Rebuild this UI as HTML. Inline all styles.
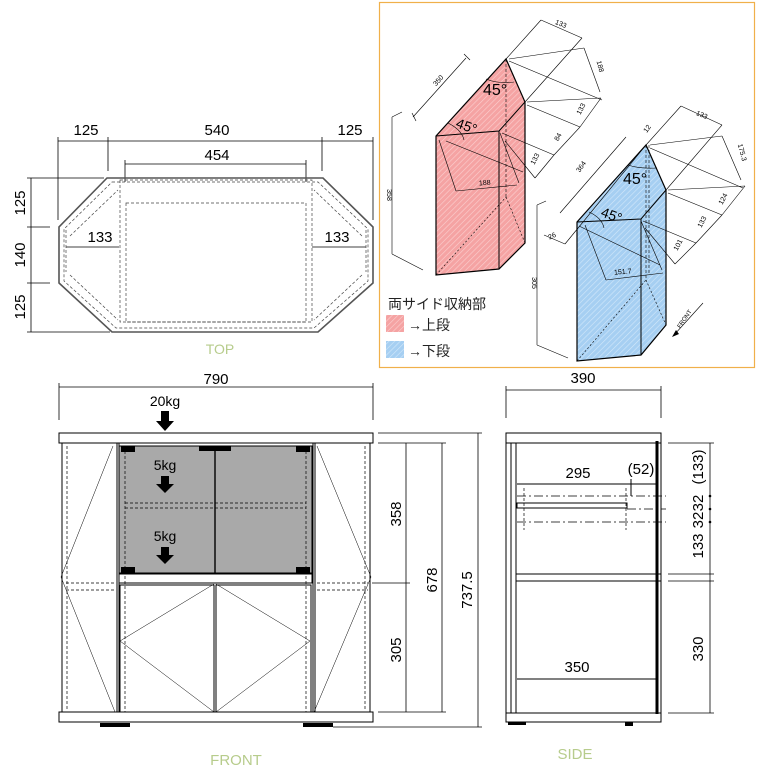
<!DOCTYPE html>
<html><head><meta charset="utf-8"><style>
html,body{margin:0;padding:0;background:#fff;}
svg{display:block;}
text{font-family:"Liberation Sans","Noto Sans CJK JP",sans-serif;}
</style></head><body>
<svg width="770" height="769" viewBox="0 0 770 769" xmlns="http://www.w3.org/2000/svg">
<defs>
<pattern id="hr" width="4" height="4" patternUnits="userSpaceOnUse" patternTransform="rotate(45)">
<rect width="4" height="4" fill="#f5a3a3"/><line x1="0" y1="0" x2="0" y2="4" stroke="#fbd0d0" stroke-width="1.2"/></pattern>
<pattern id="hb" width="4" height="4" patternUnits="userSpaceOnUse" patternTransform="rotate(45)">
<rect width="4" height="4" fill="#a6cff2"/><line x1="0" y1="0" x2="0" y2="4" stroke="#d3e8fa" stroke-width="1.2"/></pattern>
</defs>

<!-- ========== TOP VIEW ========== -->
<g stroke="#000" stroke-width="0.8" fill="none">
<line x1="58" y1="141" x2="373" y2="141"/>
<line x1="58" y1="137" x2="58" y2="220"/>
<line x1="108" y1="137" x2="108" y2="171"/>
<line x1="322" y1="137" x2="322" y2="171"/>
<line x1="373" y1="137" x2="373" y2="220"/>
<line x1="125" y1="164" x2="306" y2="164"/>
<line x1="125" y1="160" x2="125" y2="182"/><line x1="306" y1="160" x2="306" y2="182"/>
<line x1="31" y1="178" x2="31" y2="332"/>
<line x1="27" y1="178" x2="104" y2="178"/>
<line x1="27" y1="227" x2="50" y2="227"/>
<line x1="27" y1="283" x2="50" y2="283"/>
<line x1="27" y1="332" x2="110" y2="332"/>
<line x1="66" y1="247" x2="119" y2="247"/>
<line x1="312" y1="247" x2="366" y2="247"/>
</g>
<polygon points="107,178 323,178 373,227 373,283 318,332 112,332 59,283 59,227" fill="none" stroke="#555" stroke-width="1.6"/>
<g stroke="#444" stroke-width="0.7" fill="none" stroke-dasharray="3,2">
<polygon points="112,182 318,182 368,229 368,281 314,328 116,328 64,281 64,229"/>
<rect x="120" y="180" width="192" height="142"/>
<rect x="126" y="203" width="180" height="119"/>
<line x1="66" y1="230" x2="66" y2="272"/>
<line x1="366" y1="230" x2="366" y2="272"/>
<line x1="70" y1="275" x2="118" y2="320"/>
<line x1="362" y1="275" x2="314" y2="320"/>
<line x1="70" y1="236" x2="118" y2="190"/>
<line x1="362" y1="236" x2="314" y2="190"/>
</g>
<g font-size="15" text-anchor="middle" fill="#000">
<text x="86" y="135">125</text><text x="217" y="135">540</text><text x="350" y="135">125</text>
<text x="217" y="160">454</text>
<text x="100" y="242">133</text><text x="337" y="242">133</text>
<text transform="translate(25,203) rotate(-90)">125</text>
<text transform="translate(25,255) rotate(-90)">140</text>
<text transform="translate(25,307) rotate(-90)">125</text>
</g>
<text x="220" y="354" font-size="14" fill="#b7cc8c" text-anchor="middle">TOP</text>

<!-- ========== ISO BOX ========== -->
<rect x="379.5" y="2.5" width="375" height="365" fill="#fff" stroke="#f0b04a" stroke-width="1.2"/>
<polygon points="436,136 506,59 525,102 525,243 499,269 436,275" fill="url(#hr)" stroke="#000" stroke-width="1.2"/>
<g stroke="#000" stroke-width="1" fill="none">
<polyline points="436,136 499,131 525,102"/>
<line x1="499" y1="131" x2="499" y2="269"/>
</g>
<g stroke="#000" stroke-width="0.6" fill="none">
<line x1="506" y1="59" x2="506" y2="197" stroke-dasharray="3,2"/>
<line x1="436" y1="275" x2="506" y2="197" stroke-dasharray="2,2"/>
<line x1="506" y1="197" x2="525" y2="243" stroke-dasharray="2,2"/>
<line x1="439" y1="140" x2="456" y2="191"/><line x1="456" y1="191" x2="517" y2="185"/>
<line x1="446" y1="141" x2="523" y2="172"/>
<line x1="500" y1="133" x2="519" y2="183"/>
<line x1="413" y1="117" x2="466" y2="58"/><line x1="412" y1="113" x2="416" y2="121"/><line x1="464" y1="54" x2="470" y2="60"/>
<line x1="392" y1="117" x2="392" y2="254"/><line x1="392" y1="117" x2="402" y2="112"/><line x1="392" y1="254" x2="423" y2="270"/>
<line x1="506" y1="59" x2="541" y2="20"/><line x1="541" y1="20" x2="582" y2="38"/>
<line x1="525" y1="102" x2="582" y2="38"/>
<line x1="509" y1="59" x2="584" y2="48"/><line x1="584" y1="48" x2="600" y2="92"/>
<line x1="509" y1="61" x2="602" y2="100"/>
<line x1="527" y1="102" x2="601" y2="98"/>
<line x1="527" y1="105" x2="580" y2="127"/><line x1="580" y1="127" x2="601" y2="98"/>
<line x1="502" y1="133" x2="554" y2="155"/><line x1="554" y1="155" x2="580" y2="127"/>
<line x1="505" y1="141" x2="535" y2="178"/><line x1="535" y1="178" x2="554" y2="155"/>
<path d="M 448,123 Q 462,130 464,140"/>
<path d="M 486,79 Q 498,84 514,82"/>
</g>
<polygon points="577,222 646,145 666,190 666,325 641,355 577,361" fill="url(#hb)" stroke="#000" stroke-width="1.2"/>
<g stroke="#000" stroke-width="1" fill="none">
<polyline points="577,222 641,219 666,190"/>
<line x1="641" y1="219" x2="641" y2="355"/>
</g>
<g stroke="#000" stroke-width="0.6" fill="none">
<line x1="646" y1="145" x2="646" y2="280" stroke-dasharray="3,2"/>
<line x1="649" y1="145" x2="649" y2="275" stroke-dasharray="3,2"/>
<line x1="577" y1="361" x2="646" y2="280" stroke-dasharray="2,2"/>
<line x1="646" y1="280" x2="666" y2="325" stroke-dasharray="2,2"/>
<line x1="585" y1="225" x2="606" y2="280"/><line x1="606" y1="280" x2="663" y2="273"/>
<line x1="579" y1="226" x2="660" y2="265"/>
<line x1="641" y1="221" x2="662" y2="270"/>
<line x1="560" y1="213" x2="626" y2="137"/>
<line x1="565" y1="244" x2="646" y2="145"/><line x1="544" y1="235" x2="565" y2="244"/>
<line x1="537" y1="205" x2="537" y2="345"/><line x1="537" y1="205" x2="546" y2="201"/><line x1="537" y1="345" x2="568" y2="358"/>
<line x1="646" y1="145" x2="681" y2="106"/><line x1="681" y1="106" x2="722" y2="125"/>
<line x1="666" y1="190" x2="722" y2="125"/>
<line x1="650" y1="145" x2="722" y2="136"/><line x1="722" y1="136" x2="741" y2="180"/>
<line x1="650" y1="148" x2="743" y2="188"/>
<line x1="668" y1="190" x2="745" y2="186"/>
<line x1="668" y1="193" x2="722" y2="215"/><line x1="722" y1="215" x2="745" y2="186"/>
<line x1="643" y1="221" x2="696" y2="243"/><line x1="696" y1="243" x2="722" y2="215"/>
<line x1="645" y1="228" x2="675" y2="264"/><line x1="675" y1="264" x2="696" y2="243"/>
<path d="M 589,212 Q 602,218 604,228"/>
<path d="M 628,165 Q 640,169 657,168"/>
<line x1="703" y1="303" x2="674" y2="335"/>
</g>
<polygon points="672,337 679,334 676,330" fill="#000"/>
<g font-size="7" fill="#000" text-anchor="middle">
<text transform="translate(440,82) rotate(-48)">350</text>
<text transform="translate(560,26) rotate(22)">133</text>
<text transform="translate(598,67) rotate(75)">188</text>
<text transform="translate(583,110) rotate(-62)">133</text>
<text transform="translate(560,138) rotate(-62)">84</text>
<text transform="translate(537,160) rotate(-62)">133</text>
<text transform="translate(485,185) rotate(-5)">188</text>
<text transform="translate(387,195) rotate(90)">358</text>
<text transform="translate(583,168) rotate(-55)">364</text>
<text transform="translate(649,130) rotate(-55)">12</text>
<text transform="translate(701,117) rotate(22)">133</text>
<text transform="translate(740,153) rotate(75)">175.3</text>
<text transform="translate(725,200) rotate(-62)">124</text>
<text transform="translate(704,223) rotate(-62)">133</text>
<text transform="translate(680,246) rotate(-62)">101</text>
<text transform="translate(623,274) rotate(-5)">151.7</text>
<text transform="translate(553,238) rotate(-25)">26</text>
<text transform="translate(532,283) rotate(90)">305</text>
<text transform="translate(686,320) rotate(-55)" font-size="6">FRONT</text>
</g>
<g font-size="16" fill="#000">
<text x="483" y="95">45°</text>
<text x="623" y="184">45°</text>
<text transform="translate(455,127) rotate(20)" font-size="14">45°</text>
<text transform="translate(600,216) rotate(20)" font-size="14">45°</text>
</g>
<text x="388" y="309" font-size="14" fill="#222">両サイド収納部</text>
<rect x="386" y="315" width="18" height="17" fill="url(#hr)"/>
<text x="408" y="330" font-size="14" fill="#222">→上段</text>
<rect x="386" y="341" width="18" height="17" fill="url(#hb)"/>
<text x="408" y="356" font-size="14" fill="#222">→下段</text>

<!-- ========== FRONT VIEW ========== -->
<g stroke="#000" stroke-width="0.8" fill="none">
<line x1="59" y1="387" x2="373" y2="387"/>
<line x1="59" y1="383" x2="59" y2="420"/><line x1="373" y1="383" x2="373" y2="420"/>
</g>
<text x="216" y="384" font-size="15" text-anchor="middle">790</text>
<text x="165" y="406" font-size="14" text-anchor="middle">20kg</text>
<polygon points="161,411 169,411 169,421 174,421 165,431 156,421 161,421" fill="#000"/>
<rect x="119" y="446" width="193" height="127" fill="#a9a9a9"/>
<g stroke="#000" stroke-width="1" fill="none">
<rect x="59" y="433" width="314" height="10"/>
<rect x="59" y="712" width="314" height="10"/>
<line x1="62" y1="443" x2="62" y2="712"/><line x1="370" y1="443" x2="370" y2="712"/>
<line x1="117" y1="443" x2="117" y2="712"/><line x1="119" y1="443" x2="119" y2="712"/>
<line x1="313" y1="443" x2="313" y2="712"/><line x1="315" y1="443" x2="315" y2="712"/>
<rect x="119" y="446" width="193" height="127"/>
<line x1="215" y1="446" x2="215" y2="573" stroke-width="1.4"/>
<rect x="119" y="574" width="193" height="9"/>
<rect x="120" y="585" width="94" height="127"/>
<rect x="216" y="585" width="95" height="127"/>
</g>
<g stroke="#000" stroke-width="0.7" fill="none" stroke-dasharray="3,2">
<line x1="125" y1="503" x2="306" y2="503"/><line x1="125" y1="508" x2="306" y2="508"/>
<line x1="125" y1="446" x2="125" y2="712"/><line x1="306" y1="446" x2="306" y2="712"/>
<line x1="66" y1="583" x2="116" y2="583"/><line x1="66" y1="590" x2="116" y2="590"/>
<line x1="317" y1="583" x2="368" y2="583"/><line x1="317" y1="590" x2="368" y2="590"/>
<line x1="67" y1="446" x2="67" y2="710"/><line x1="365" y1="446" x2="365" y2="710"/>
</g>
<g stroke="#000" stroke-width="0.5" fill="none">
<polyline points="113,446 61,577 115,712"/>
<polyline points="317,446 371,577 314,712"/>
<polyline points="214,584 120,641 214,712"/>
<polyline points="216,584 310,641 216,712"/>
</g>
<g fill="#000">
<rect x="121" y="446" width="14" height="6"/><rect x="199" y="446" width="32" height="5"/><rect x="296" y="446" width="14" height="6"/>
<rect x="121" y="567" width="14" height="6"/><rect x="296" y="567" width="14" height="6"/>
<rect x="100" y="723" width="30" height="4"/><rect x="303" y="723" width="30" height="4"/>
</g>
<text x="165" y="470" font-size="14" text-anchor="middle">5kg</text>
<polygon points="161,476 169,476 169,484 174,484 165,493 156,484 161,484" fill="#000"/>
<text x="165" y="541" font-size="14" text-anchor="middle">5kg</text>
<polygon points="161,547 169,547 169,555 174,555 165,564 156,555 161,555" fill="#000"/>
<g stroke="#000" stroke-width="0.8" fill="none">
<line x1="378" y1="443" x2="410" y2="443"/>
<line x1="406" y1="443" x2="406" y2="712"/>
<line x1="372" y1="583" x2="410" y2="583"/>
<line x1="378" y1="712" x2="446" y2="712"/>
<line x1="442" y1="443" x2="442" y2="712"/>
<line x1="410" y1="443" x2="446" y2="443"/>
<line x1="378" y1="433" x2="482" y2="433"/>
<line x1="478" y1="433" x2="478" y2="727"/>
<line x1="333" y1="727" x2="482" y2="727"/>
</g>
<g font-size="15" text-anchor="middle">
<text transform="translate(401,514) rotate(-90)">358</text>
<text transform="translate(401,650) rotate(-90)">305</text>
<text transform="translate(437,580) rotate(-90)">678</text>
<text transform="translate(472,590) rotate(-90)">737.5</text>
</g>
<text x="236" y="765" font-size="15" fill="#b7cc8c" text-anchor="middle">FRONT</text>

<!-- ========== SIDE VIEW ========== -->
<g stroke="#000" stroke-width="0.8" fill="none">
<line x1="506" y1="390" x2="661" y2="390"/>
<line x1="506" y1="386" x2="506" y2="418"/><line x1="661" y1="386" x2="661" y2="418"/>
</g>
<text x="583" y="383" font-size="15" text-anchor="middle">390</text>
<g stroke="#000" stroke-width="1" fill="none">
<rect x="506" y="433" width="155" height="10"/>
<rect x="506" y="713" width="155" height="9"/>
<line x1="506" y1="443" x2="506" y2="713"/><line x1="661" y1="443" x2="661" y2="713"/>
<line x1="516" y1="443" x2="516" y2="713"/>
<line x1="511" y1="443" x2="511" y2="713"/>
<rect x="516" y="574" width="145" height="7"/>
<rect x="517" y="503" width="110" height="5"/>
<line x1="517" y1="484" x2="656" y2="484"/>
<line x1="631" y1="479" x2="631" y2="496"/>
<line x1="517" y1="679" x2="656" y2="679"/>
</g>
<line x1="657" y1="441" x2="657" y2="714" stroke="#000" stroke-width="3"/>
<g stroke="#000" stroke-width="0.8" fill="none" stroke-dasharray="9,3,2,3">
<line x1="517" y1="496" x2="666" y2="496"/>
<line x1="627" y1="509" x2="666" y2="509"/>
<line x1="517" y1="522" x2="666" y2="522"/>
</g>
<g stroke="#000" stroke-width="0.7" stroke-dasharray="3,2">
<line x1="524" y1="488" x2="524" y2="530"/><line x1="626" y1="488" x2="626" y2="530"/>
</g>
<g stroke="#000" stroke-width="0.8" fill="none">
<line x1="668" y1="443" x2="714" y2="443"/>
<line x1="710" y1="443" x2="710" y2="713"/>
<line x1="668" y1="574" x2="714" y2="574"/>
<line x1="668" y1="581" x2="714" y2="581"/>
<line x1="668" y1="713" x2="714" y2="713"/>
</g>
<g fill="#000"><circle cx="710" cy="496" r="1.3"/><circle cx="710" cy="509" r="1.3"/><circle cx="710" cy="522" r="1.3"/>
<rect x="508" y="722" width="18" height="3"/><rect x="625" y="722" width="8" height="4"/></g>
<g font-size="15" text-anchor="middle">
<text x="578" y="478">295</text>
<text x="641" y="474">(52)</text>
<text transform="translate(703,467) rotate(-90)">(133)</text>
<text transform="translate(703,503) rotate(-90)">32</text>
<text transform="translate(703,520) rotate(-90)">32</text>
<text transform="translate(703,546) rotate(-90)">133</text>
<text transform="translate(703,649) rotate(-90)">330</text>
<text x="577" y="672">350</text>
</g>
<text x="575" y="759" font-size="15" fill="#b7cc8c" text-anchor="middle">SIDE</text>
</svg>
</body></html>
